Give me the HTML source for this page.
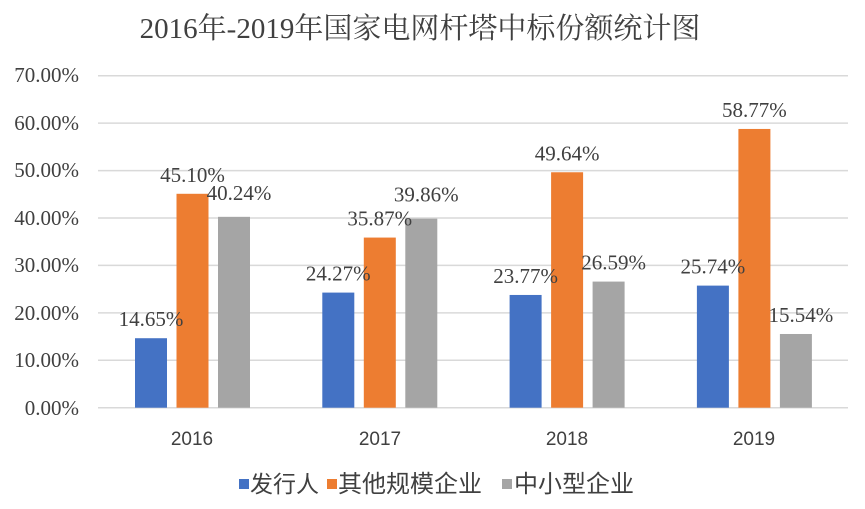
<!DOCTYPE html>
<html><head><meta charset="utf-8"><style>
body{margin:0;background:#fff}
svg text{font-family:"Liberation Serif","Noto Serif CJK SC",serif;fill:#404040}
</style></head><body>
<svg width="865" height="504" xmlns="http://www.w3.org/2000/svg">
<text x="420" y="38" font-size="29" text-anchor="middle" fill="#404040">2016年-2019年国家电网杆塔中标份额统计图</text>
<g stroke="#d9d9d9" stroke-width="1.5">
<line x1="98" x2="848" y1="75.7" y2="75.7"/><line x1="98" x2="848" y1="123.1" y2="123.1"/>
<line x1="98" x2="848" y1="170.6" y2="170.6"/><line x1="98" x2="848" y1="218" y2="218"/>
<line x1="98" x2="848" y1="265.4" y2="265.4"/><line x1="98" x2="848" y1="312.9" y2="312.9"/>
<line x1="98" x2="848" y1="360.3" y2="360.3"/><line x1="98" x2="848" y1="407.7" y2="407.7"/>
</g>
<g font-size="21" text-anchor="end">
<text x="79" y="82">70.00%</text><text x="79" y="130">60.00%</text><text x="79" y="177">50.00%</text>
<text x="79" y="225">40.00%</text><text x="79" y="272">30.00%</text><text x="79" y="320">20.00%</text>
<text x="79" y="367">10.00%</text><text x="79" y="415">0.00%</text>
</g>
<g id="bars"></g>
<g font-size="19" text-anchor="middle">
<text x="192" y="445" style="font-family:'Liberation Sans',sans-serif">2016</text>
<text x="380" y="445" style="font-family:'Liberation Sans',sans-serif">2017</text>
<text x="567" y="445" style="font-family:'Liberation Sans',sans-serif">2018</text>
<text x="754" y="445" style="font-family:'Liberation Sans',sans-serif">2019</text>
</g>
<rect x="239" y="479" width="10" height="10" fill="#4472c4"/>
<text x="250" y="492" font-size="23" style="font-family:'Liberation Sans','Noto Sans CJK SC',sans-serif">发行人</text>
<rect x="327" y="479" width="10" height="10" fill="#ed7d31"/>
<text x="338" y="492" font-size="24" style="font-family:'Liberation Sans','Noto Sans CJK SC',sans-serif">其他规模企业</text>
<rect x="502" y="479" width="10" height="10" fill="#a5a5a5"/>
<text x="514" y="492" font-size="24" style="font-family:'Liberation Sans','Noto Sans CJK SC',sans-serif">中小型企业</text>
</svg>
<script>
var d=[[14.65,45.10,40.24],[24.27,35.87,39.86],[23.77,49.64,26.59],[25.74,58.77,15.54]];
var c=["#4472c4","#ed7d31","#a5a5a5"],g=document.getElementById("bars"),s="";
for(var i=0;i<4;i++)for(var j=0;j<3;j++){var x=135+i*187.3+j*41.5,h=d[i][j]*4.743,y=407.7-h;
s+='<rect x="'+x+'" y="'+y+'" width="32" height="'+h+'" fill="'+c[j]+'"/>';}
for(var i=0;i<4;i++)for(var j=0;j<3;j++){var x=135+i*187.3+j*41.5+16+(j==2?5:0),y=407.7-d[i][j]*4.743-12-(j==2&&i<2?5:0);
s+='<text x="'+x+'" y="'+y+'" font-size="21" text-anchor="middle">'+d[i][j].toFixed(2)+'%</text>';}
g.innerHTML=s;
</script>
</body></html>
